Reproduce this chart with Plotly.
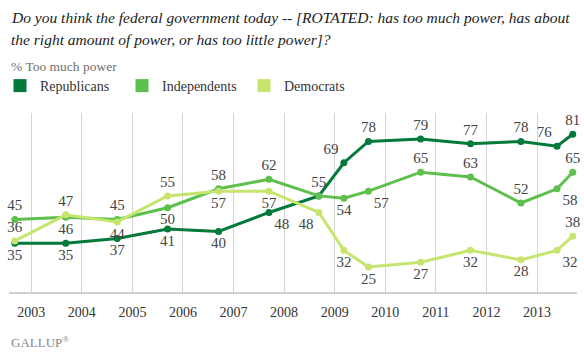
import plotly.graph_objects as go

# ---- data ----
dates = ["2002-09-05", "2003-09-08", "2004-09-13", "2005-09-12", "2006-09-15",
         "2007-09-14", "2008-09-08", "2009-03-08", "2009-09-01", "2010-09-13",
         "2011-09-08", "2012-09-06", "2013-05-25", "2013-09-15"]
republicans = [35, 35, 37, 41, 40, 48, 55, 69, 78, 79, 77, 78, 76, 81]
independents = [45, 46, 45, 50, 58, 62, 55, 54, 57, 65, 63, 52, 58, 65]
democrats = [36, 47, 44, 55, 57, 57, 48, 32, 25, 27, 32, 28, 32, 38]
year_ticks = [f"{y}-01-01" for y in range(2003, 2014)]
year_labels = [str(y) for y in range(2003, 2014)]

rep_pos = ["bottom center"] * 5 + ["bottom right", "top center", "top left",
           "top center", "top center", "top center", "top center", "top left", "top center"]
ind_pos = ["top center", "bottom center", "top center", "bottom center", "top center",
           "top center", "top center", "bottom center", "bottom right", "top center",
           "top center", "top center", "bottom right", "top center"]
dem_pos = ["top center", "top center", "bottom center", "top center", "bottom center",
           "bottom center", "bottom left", "bottom center", "bottom center", "bottom center",
           "bottom center", "bottom center", "bottom right", "top center"]

ind_text = [str(v) for v in independents]
ind_text[6] = ""  # overlapping label shown once (Republicans carry it)

C_REP = "#00793A"
C_IND = "#5EC04C"
C_DEM = "#C6E56F"
SERIF = "Liberation Serif, DejaVu Serif, serif"
LABEL_FONT = dict(family=SERIF, size=15, color="#444444")

fig = go.Figure()

def add_series(name, vals, color, pos, text):
    fig.add_trace(go.Scatter(
        x=dates, y=vals, mode="lines+markers+text", name=name,
        line=dict(color=color, width=3), marker=dict(color=color, size=7),
        text=text, textposition=pos, textfont=LABEL_FONT,
        cliponaxis=False, showlegend=False, hoverinfo="x+y"))
    # legend entry with square swatch
    fig.add_trace(go.Scatter(
        x=[None], y=[None], mode="markers", name=name,
        marker=dict(color=color, size=13, symbol="square"), showlegend=True))

add_series("Republicans", republicans, C_REP, rep_pos, [str(v) for v in republicans])
add_series("Independents", independents, C_IND, ind_pos, ind_text)
add_series("Democrats", democrats, C_DEM, dem_pos, [str(v) for v in democrats])

fig.update_layout(
    width=584, height=354,
    margin=dict(l=9, r=7, t=113, b=61, autoexpand=False),
    paper_bgcolor="white", plot_bgcolor="white",
    font=dict(family=SERIF, color="#333333"),
    showlegend=True,
    legend=dict(orientation="h", xref="container", x=-0.008, xanchor="left",
                yref="container", y=0.757, yanchor="middle",
                font=dict(family=SERIF, size=14, color="#333333"),
                entrywidth=77, entrywidthmode="pixels",
                bgcolor="rgba(0,0,0,0)", itemclick=False, itemdoubleclick=False),
    xaxis=dict(type="date", range=["2002-07-25", "2013-10-16"],
               tickmode="array", tickvals=year_ticks, ticktext=year_labels,
               showgrid=True, gridcolor="#D4D4D0", gridwidth=1,
               showline=False, zeroline=False,
               ticks="outside", ticklen=6, tickcolor="rgba(0,0,0,0)",
               tickfont=dict(family=SERIF, size=14, color="#333333")),
    yaxis=dict(range=[14, 90], showgrid=False, zeroline=False,
               showticklabels=False, showline=False),
    annotations=[
        dict(text="<i>Do you think the federal government today -- [ROTATED: has too much power, has about</i>",
             xref="paper", yref="paper", x=0, y=1.5333, xanchor="left", yanchor="middle",
             showarrow=False, font=dict(family=SERIF, size=15.5, color="#222222")),
        dict(text="<i>the right amount of power, or has too little power]?</i>",
             xref="paper", yref="paper", x=0, y=1.4111, xanchor="left", yanchor="middle",
             showarrow=False, font=dict(family=SERIF, size=15.5, color="#222222")),
        dict(text="% Too much power",
             xref="paper", yref="paper", x=0, y=1.2556, xanchor="left", yanchor="middle",
             showarrow=False, font=dict(family=SERIF, size=13.5, color="#707070")),
        dict(text="GALLUP<sup>®</sup>",
             xref="paper", yref="paper", x=0, y=-0.272, xanchor="left", yanchor="middle",
             showarrow=False, font=dict(family=SERIF, size=13, color="#888888")),
    ],
    shapes=[dict(type="line", xref="paper", yref="paper", x0=0, x1=1, y0=0, y1=0,
                 line=dict(color="#D0D0CC", width=2))],
)

fig.write_html("out.html")
